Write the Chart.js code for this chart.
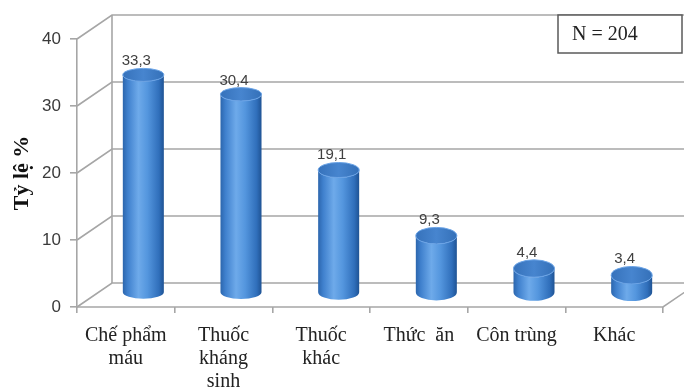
<!DOCTYPE html>
<html>
<head>
<meta charset="utf-8">
<script src="https://cdn.jsdelivr.net/npm/chart.js@4/dist/chart.umd.min.js"></script>
<style>
  html, body { margin: 0; padding: 0; background: #fff; }
  #wrap { width: 684px; height: 391px; }
</style>
</head>
<body>
<div id="wrap"><canvas id="c" width="684" height="391"></canvas></div>
<script>
// Categories (multi-line labels), percentages and axis ticks
const categories = [["Chế phẩm", "máu"], ["Thuốc", "kháng", "sinh"], ["Thuốc", "khác"], "Thức  ăn", "Côn trùng", "Khác"];
const values = [33.3, 30.4, 19.1, 9.3, 4.4, 3.4];
const yTicks = [0, 10, 20, 30, 40];
const yTitle = "Tỷ lệ %";
const sampleNote = "N = 204";

// depth of the 3D box (back wall is shifted right/up by this amount)
const DX = 35, DY = 24;
const GRID = '#a6a6a6';

const fmt = v => v.toFixed(1).replace('.', ',');

const frame3d = {
  id: 'frame3d',
  beforeDatasetsDraw(chart) {
    const { ctx, chartArea, scales } = chart;
    const y = scales.y;
    const L = chartArea.left, R = chartArea.right;
    ctx.save();
    ctx.strokeStyle = GRID;
    ctx.lineWidth = 1.6;
    // back wall grid lines and left-side diagonals
    yTicks.forEach(t => {
      const py = y.getPixelForValue(t);
      ctx.beginPath();
      ctx.moveTo(L, py);
      ctx.lineTo(L + DX, py - DY);
      ctx.lineTo(R + DX, py - DY);
      ctx.stroke();
    });
    // back wall left edge
    ctx.beginPath();
    ctx.moveTo(L + DX, y.getPixelForValue(0) - DY);
    ctx.lineTo(L + DX, y.getPixelForValue(yTicks[yTicks.length - 1]) - DY);
    ctx.stroke();
    // floor front edge and right diagonal
    const b = y.getPixelForValue(0);
    ctx.beginPath();
    ctx.moveTo(L, b);
    ctx.lineTo(R, b);
    ctx.lineTo(R + DX, b - DY);
    ctx.stroke();
    ctx.restore();
  },
  afterDatasetsDraw(chart) {
    const { ctx } = chart;
    const meta = chart.getDatasetMeta(0);
    const yMax = chart.scales.y.max;
    ctx.save();
    meta.data.forEach((bar, i) => {
      const v = values[i];
      const cx = bar.x + DX / 2;
      const rx = bar.width / 2;
      const ry = 6 + 3 * (1 - v / yMax);
      const top = bar.y - 9;
      const bot = bar.base - 14;

      // cylinder body
      const g = ctx.createLinearGradient(cx - rx, 0, cx + rx, 0);
      g.addColorStop(0, '#2c66ad');
      g.addColorStop(0.12, '#3f80cd');
      g.addColorStop(0.38, '#6eaaea');
      g.addColorStop(0.6, '#5496de');
      g.addColorStop(0.88, '#306fbb');
      g.addColorStop(1, '#1f5394');
      ctx.beginPath();
      ctx.moveTo(cx - rx, top);
      ctx.lineTo(cx - rx, bot);
      ctx.ellipse(cx, bot, rx, ry, 0, Math.PI, 0, true);
      ctx.lineTo(cx + rx, top);
      ctx.ellipse(cx, top, rx, ry, 0, 0, Math.PI, false);
      ctx.closePath();
      ctx.fillStyle = g;
      ctx.fill();

      // cylinder top
      const gt = ctx.createLinearGradient(cx - rx, top, cx + rx, top);
      gt.addColorStop(0, '#3672bb');
      gt.addColorStop(0.5, '#4785cf');
      gt.addColorStop(1, '#3470b8');
      ctx.beginPath();
      ctx.ellipse(cx, top, rx, ry, 0, 0, Math.PI * 2);
      ctx.fillStyle = gt;
      ctx.fill();
      ctx.lineWidth = 1;
      ctx.strokeStyle = '#6aa3e6';
      ctx.stroke();

      // value label
      ctx.font = '15px "Liberation Sans", Arial, sans-serif';
      ctx.fillStyle = '#404040';
      ctx.textAlign = 'center';
      ctx.textBaseline = 'alphabetic';
      ctx.fillText(fmt(v), cx - 7, top - ry - 3);
    });

    // sample size box
    const ca = chart.chartArea;
    const bx = ca.right - 105, by = ca.top - 24, bw = 124, bh = 38;
    ctx.fillStyle = '#fff';
    ctx.fillRect(bx, by, bw, bh);
    ctx.strokeStyle = '#5a5a5a';
    ctx.lineWidth = 1.5;
    ctx.strokeRect(bx, by, bw, bh);
    ctx.font = '20px "Liberation Serif", "Times New Roman", serif';
    ctx.fillStyle = '#222';
    ctx.textAlign = 'left';
    ctx.textBaseline = 'middle';
    ctx.fillText(sampleNote, bx + 14, by + bh / 2 + 1);
    ctx.restore();
  }
};

new Chart(document.getElementById('c'), {
  type: 'bar',
  data: {
    labels: categories,
    datasets: [{
      data: values,
      backgroundColor: 'rgba(0,0,0,0)',
      borderWidth: 0,
      categoryPercentage: 1,
      barPercentage: 0.42
    }]
  },
  options: {
    responsive: false,
    animation: false,
    events: [],
    layout: { padding: { top: 39, right: 21, left: 0, bottom: 0 } },
    plugins: { legend: { display: false }, tooltip: { enabled: false } },
    scales: {
      y: {
        min: 0, max: 40,
        afterFit: s => { s.width = 77; },
        ticks: {
          stepSize: 10,
          color: '#3a3a3a',
          padding: 9,
          font: { family: '"Liberation Sans", Arial, sans-serif', size: 17 }
        },
        grid: { display: true, drawOnChartArea: false, drawTicks: true, tickLength: 7, color: GRID, lineWidth: 1.6 },
        border: { display: true, color: GRID, width: 1.6 },
        title: {
          display: true,
          text: yTitle,
          color: '#111',
          padding: { top: 9, bottom: 0 },
          font: { family: '"Liberation Serif", "Times New Roman", serif', size: 22, weight: 'bold' }
        }
      },
      x: {
        afterFit: s => { s.height = 84; },
        ticks: {
          color: '#222',
          padding: 11,
          maxRotation: 0,
          autoSkip: false,
          font: { family: '"Liberation Serif", "Times New Roman", serif', size: 20, lineHeight: 1.15 }
        },
        grid: { display: true, drawOnChartArea: false, drawTicks: true, tickLength: 6, color: GRID, lineWidth: 1.6, offset: true },
        border: { display: false }
      }
    }
  },
  plugins: [frame3d]
});
</script>
</body>
</html>
